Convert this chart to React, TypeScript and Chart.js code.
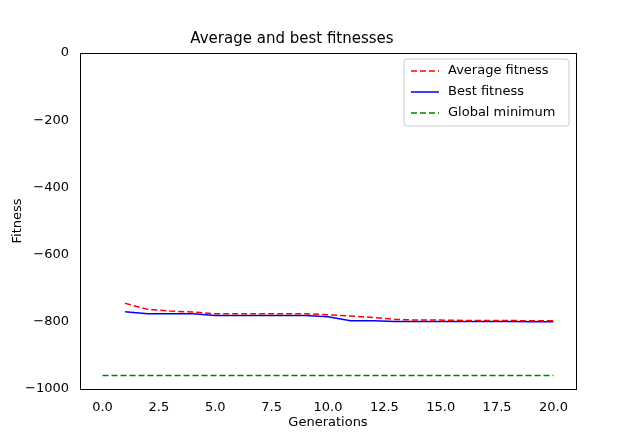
import { useEffect, useRef } from "react";
import { Chart, registerables } from "chart.js";

Chart.register(...registerables);

const generations = [1, 2, 3, 4, 5, 6, 7, 8, 9, 10, 11, 12, 13, 14, 15, 16, 17, 18, 19, 20];
const averageFitness = [-745, -763, -768, -771, -776, -776, -776, -776, -776, -779, -783, -787, -793, -795, -795, -796, -796, -796, -797, -797];
const bestFitness = [-770, -776, -776, -776, -781, -781, -781, -781, -781, -785, -797, -797, -799, -799, -799, -799, -799, -799, -800, -800];
const globalX = [0, 20];
const globalMin = -959.64;

export default function App() {
  const ref = useRef<HTMLCanvasElement>(null);

  useEffect(() => {
    if (!ref.current) return;
    const font = { family: "DejaVu Sans", size: 13 };
    const chart = new Chart(ref.current, {
      type: "line",
      data: {
        datasets: [
          {
            label: "Average fitness",
            data: generations.map((g, i) => ({ x: g, y: averageFitness[i] })),
            borderColor: "#ff0000",
            borderDash: [6, 3],
            borderWidth: 1.5,
            pointRadius: 0,
            tension: 0,
          },
          {
            label: "Best fitness",
            data: generations.map((g, i) => ({ x: g, y: bestFitness[i] })),
            borderColor: "#0000ff",
            borderWidth: 1.5,
            pointRadius: 0,
          },
          {
            label: "Global minimum",
            data: globalX.map((x) => ({ x, y: globalMin })),
            borderColor: "#008000",
            borderDash: [6, 3],
            borderWidth: 1.5,
            pointRadius: 0,
          },
        ],
      },
      options: {
        animation: false,
        responsive: false,
        layout: { padding: { left: 0, right: 56, top: 0, bottom: 0 } },
        plugins: {
          title: { display: true, text: "Average and best fitnesses", color: "#000", font: { family: "DejaVu Sans", size: 15, weight: "normal" }, padding: { top: 22, bottom: 5 } },
          legend: { display: false },
          tooltip: { enabled: false },
        },
        scales: {
          x: {
            type: "linear",
            min: -1,
            max: 21,
            afterBuildTicks: (s: any) => {
              s.ticks = [0, 2.5, 5, 7.5, 10, 12.5, 15, 17.5, 20].map((v) => ({ value: v }));
            },
            afterFit: (s: any) => {
              s.height = 41;
            },
            ticks: { color: "#000", font, callback: (v: any) => Number(v).toFixed(1), maxRotation: 0 },
            grid: { display: false, drawTicks: true },
            border: { color: "#000" },
            title: { display: true, text: "Generations", color: "#000", font, padding: 0 },
          },
          y: {
            min: -1000,
            max: 0,
            afterFit: (s: any) => {
              s.width = 72;
            },
            ticks: { stepSize: 200, color: "#000", font, callback: (v: any) => (Number(v) < 0 ? "\u2212" + Math.abs(Number(v)) : String(v)) },
            grid: { display: false },
            border: { color: "#000" },
            title: { display: true, text: "Fitness", color: "#000", font, padding: 2 },
          },
        },
      },
      plugins: [
        {
          id: "frameLegend",
          afterDraw(c: any) {
            const { ctx, chartArea: a } = c;
            ctx.save();
            ctx.strokeStyle = "#000";
            ctx.lineWidth = 1;
            ctx.strokeRect(a.left + 0.5, a.top + 0.5, a.right - a.left, a.bottom - a.top);
            const w = 165, h = 67, x0 = a.right - w - 7, y0 = a.top + 6;
            ctx.fillStyle = "rgba(255,255,255,0.8)";
            ctx.strokeStyle = "#ccc";
            ctx.beginPath();
            ctx.roundRect(x0, y0, w, h, 3);
            ctx.fill();
            ctx.stroke();
            ctx.font = "13px 'DejaVu Sans'";
            ctx.textBaseline = "middle";
            c.data.datasets.forEach((d: any, i: number) => {
              const yy = y0 + 12 + i * 21;
              ctx.strokeStyle = d.borderColor;
              ctx.lineWidth = 1.5;
              ctx.setLineDash(d.borderDash || []);
              ctx.beginPath();
              ctx.moveTo(x0 + 7, yy);
              ctx.lineTo(x0 + 35, yy);
              ctx.stroke();
              ctx.setLineDash([]);
              ctx.fillStyle = "#000";
              ctx.fillText(d.label, x0 + 44, yy);
            });
            ctx.restore();
          },
        },
      ],
    });
    return () => chart.destroy();
  }, []);

  return <canvas ref={ref} width={624} height={422} />;
}
